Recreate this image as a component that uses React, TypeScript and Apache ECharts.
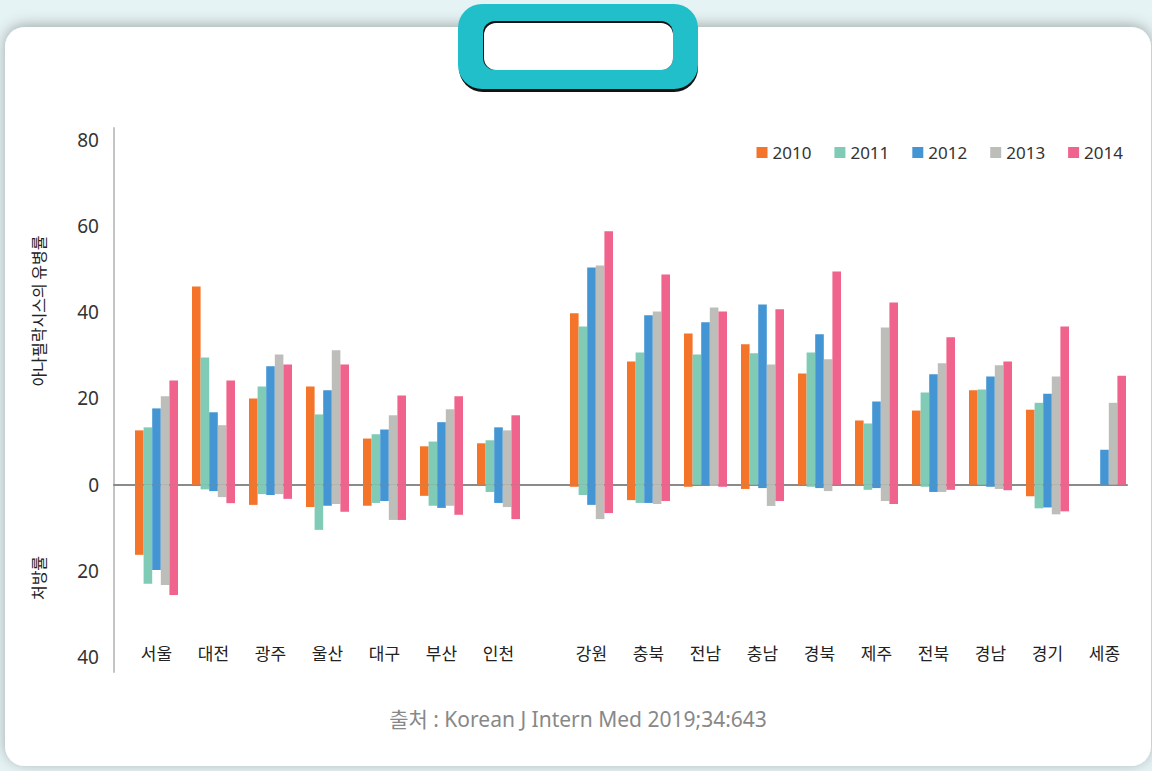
import React, { useEffect, useRef } from "react";
import * as echarts from "echarts";

const years = ["2010", "2011", "2012", "2013", "2014"];
const colors = ["#F4752A", "#7FCBB5", "#4495D3", "#BDBDB9", "#F0638D"];

const regionsA = ["서울", "대전", "광주", "울산", "대구", "부산", "인천"];
const regionsB = ["강원", "충북", "전남", "충남", "경북", "제주", "전북", "경남", "경기", "세종"];

// prevalence (upward), order: regionsA then regionsB
const prev2010 = [12.6, 46.0, 20.0, 22.8, 10.7, 8.9, 9.6, 39.8, 28.6, 35.1, 32.6, 25.8, 14.9, 17.2, 21.9, 17.4, null];
const prev2011 = [13.3, 29.5, 22.8, 16.3, 11.7, 10.0, 10.3, 36.7, 30.7, 30.2, 30.5, 30.7, 14.2, 21.4, 22.1, 19.0, null];
const prev2012 = [17.7, 16.8, 27.5, 21.9, 12.8, 14.5, 13.3, 50.4, 39.3, 37.7, 41.8, 34.9, 19.3, 25.6, 25.1, 21.1, 8.1];
const prev2013 = [20.5, 13.8, 30.2, 31.2, 16.1, 17.5, 12.6, 50.9, 40.2, 41.1, 27.9, 29.1, 36.5, 28.2, 27.7, 25.1, 19.0];
const prev2014 = [24.2, 24.2, 27.9, 27.9, 20.7, 20.5, 16.1, 58.8, 48.8, 40.2, 40.7, 49.5, 42.3, 34.2, 28.6, 36.7, 25.3];

// prescription rate (drawn downward)
const rx2010 = [16.3, 0, 4.7, 5.2, 4.9, 2.6, 0, 0.5, 3.6, 0.5, 1.0, 0, 0, 0, 0, 2.7, null];
const rx2011 = [23.0, 1.1, 2.2, 10.5, 4.25, 4.9, 1.7, 2.4, 4.25, 0, 0, 0.5, 1.2, 0.5, 0, 5.5, null];
const rx2012 = [19.8, 1.5, 2.4, 4.9, 3.8, 5.4, 4.25, 4.7, 4.25, 0, 0.8, 0.8, 0.8, 1.7, 0.5, 5.3, 0];
const rx2013 = [23.3, 2.9, 2.2, 4.5, 8.2, 4.9, 5.2, 8.0, 4.5, 0.3, 4.95, 1.5, 3.8, 1.7, 1.0, 6.9, 0];
const rx2014 = [25.6, 4.3, 3.3, 6.3, 8.2, 7.0, 8.0, 6.6, 3.8, 0.5, 3.8, 0, 4.5, 1.2, 1.3, 6.2, 0];

const yTickValues = [-40, -20, 0, 20, 40, 60, 80];
const yNameTop = "아나필락시스의 유병률";
const yNameBottom = "처방률";
const sourceText = "출처 : Korean J Intern Med 2019;34:643";

const prevByYear = [prev2010, prev2011, prev2012, prev2013, prev2014];
const rxByYear = [rx2010, rx2011, rx2012, rx2013, rx2014];

const FONT = "'Noto Sans', 'Noto Sans CJK KR', sans-serif";
const FONT_KR = "'Noto Sans CJK KR', 'Noto Sans', sans-serif";

export default function App() {
  const ref = useRef<HTMLDivElement>(null);

  useEffect(() => {
    if (!ref.current) return;
    const chart = echarts.init(ref.current, null, { renderer: "svg" });

    const Y_MIN = -43.5;
    const Y_MAX = 82.8;
    const gridTop = 128;
    const gridHeight = 544;

    const series: any[] = [];
    const nA = regionsA.length;
    [1, 2].forEach((gi) => {
      years.forEach((yr, i) => {
        const pv = gi === 1 ? prevByYear[i].slice(0, nA) : prevByYear[i].slice(nA);
        const rv = gi === 1 ? rxByYear[i].slice(0, nA) : rxByYear[i].slice(nA);
        const common = {
          type: "bar",
          name: yr,
          xAxisIndex: gi,
          yAxisIndex: gi,
          stack: "g" + gi + "y" + yr,
          barWidth: 8.6,
          barGap: "0%",
          itemStyle: { color: colors[i] },
          emphasis: { disabled: true },
        };
        series.push({ ...common, data: pv });
        series.push({ ...common, data: rv.map((v) => (v == null ? null : -v)) });
      });
    });

    const option: any = {
      animation: false,
      backgroundColor: "#E6F3F4",
      textStyle: { fontFamily: FONT },
      legend: {
        data: years,
        right: 24,
        top: 139,
        icon: "rect",
        itemWidth: 11,
        itemHeight: 11,
        itemGap: 23,
        textStyle: { fontSize: 17, color: "#333", fontFamily: FONT },
      },
      grid: [
        { left: 114, right: 25, top: gridTop, height: gridHeight },
        { left: 128, width: 399, top: gridTop, height: gridHeight },
        { left: 563, width: 570, top: gridTop, height: gridHeight },
      ],
      xAxis: [
        {
          gridIndex: 0,
          type: "value",
          min: 0,
          max: 1,
          axisLine: { show: true, onZero: true, lineStyle: { color: "#8a8a8a", width: 2 } },
          axisTick: { show: false },
          axisLabel: { show: false },
          splitLine: { show: false },
        },
        {
          gridIndex: 1,
          type: "category",
          data: regionsA,
          axisLine: { show: false, onZero: false },
          axisTick: { show: false },
          axisLabel: { fontSize: 17, color: "#222", verticalAlign: "middle", margin: -20, fontFamily: FONT_KR },
        },
        {
          gridIndex: 2,
          type: "category",
          data: regionsB,
          axisLine: { show: false, onZero: false },
          axisTick: { show: false },
          axisLabel: { fontSize: 17, color: "#222", verticalAlign: "middle", margin: -20, fontFamily: FONT_KR },
        },
      ],
      yAxis: [
        {
          gridIndex: 0,
          type: "value",
          min: Y_MIN,
          max: Y_MAX,
          axisLine: { show: true, lineStyle: { color: "#c4c4c4", width: 2 } },
          axisTick: { show: false },
          splitLine: { show: false },
          axisLabel: {
            customValues: yTickValues,
            formatter: (v: number) => String(Math.abs(Math.round(v))),
            fontSize: 19,
            color: "#333",
            margin: 15,
            fontFamily: FONT,
          },
        },
        { gridIndex: 1, type: "value", min: Y_MIN, max: Y_MAX, show: false },
        { gridIndex: 2, type: "value", min: Y_MIN, max: Y_MAX, show: false },
      ],
      graphic: [
        {
          type: "rect",
          z: -10,
          shape: { x: 5, y: 27, width: 1146, height: 739, r: 20 },
          style: { fill: "#ffffff", shadowBlur: 14, shadowColor: "rgba(0,0,0,0.3)", shadowOffsetY: -2 },
        },
        {
          type: "rect",
          z: -9,
          shape: { x: 459, y: 8, width: 239, height: 84, r: 24 },
          style: { fill: "#111111" },
        },
        {
          type: "rect",
          z: -8,
          shape: { x: 458, y: 4, width: 240, height: 85, r: 24 },
          style: { fill: "#21BFC9" },
        },
        {
          type: "rect",
          z: -7,
          shape: { x: 483, y: 21, width: 190, height: 49, r: 12 },
          style: { fill: "#111111" },
        },
        {
          type: "rect",
          z: -6,
          shape: { x: 484, y: 23, width: 189, height: 47, r: 12 },
          style: { fill: "#ffffff" },
        },
        {
          type: "text",
          x: 38,
          y: 311,
          rotation: Math.PI / 2,
          style: {
            text: yNameTop,
            fontSize: 16,
            fill: "#222",
            fontFamily: FONT_KR,
            textAlign: "center",
            textVerticalAlign: "middle",
          },
        },
        {
          type: "text",
          x: 38,
          y: 578,
          rotation: Math.PI / 2,
          style: {
            text: yNameBottom,
            fontSize: 16,
            fill: "#222",
            fontFamily: FONT_KR,
            textAlign: "center",
            textVerticalAlign: "middle",
          },
        },
        {
          type: "text",
          x: 578,
          y: 719,
          style: {
            text: sourceText,
            fontSize: 21,
            fill: "#888888",
            fontFamily: FONT,
            textAlign: "center",
            textVerticalAlign: "middle",
          },
        },
      ],
      series,
    };

    chart.setOption(option);
    return () => chart.dispose();
  }, []);

  return (
    <div
      ref={ref}
      style={{ position: "fixed", left: 0, top: 0, width: 1152, height: 771 }}
    />
  );
}
